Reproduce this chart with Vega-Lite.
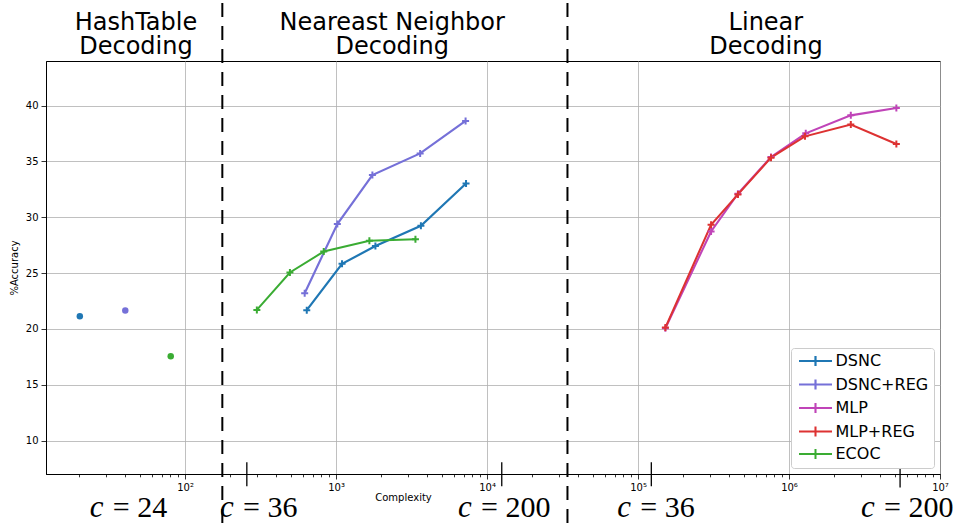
{
  "$schema": "https://vega.github.io/schema/vega-lite/v6.json",
  "width": 894,
  "height": 413,
  "autosize": {"type": "none"},
  "padding": {"left": 46, "top": 61, "right": 15, "bottom": 49},
  "config": {
    "font": "DejaVu Sans",
    "view": {"stroke": "black", "strokeWidth": 1},
    "axis": {"labelFont": "DejaVu Sans", "titleFont": "DejaVu Sans", "labelColor": "black", "titleColor": "black", "labelFontSize": 10, "titleFontSize": 10, "titleFontWeight": "normal", "tickColor": "black", "tickWidth": 0.8, "domainColor": "black", "domainWidth": 1, "gridColor": "#b0b0b0", "gridWidth": 0.8}
  },
  "datasets": {
    "lines": [
      {"method": "DSNC", "complexity": 640, "acc": 21.68},
      {"method": "DSNC", "complexity": 1096, "acc": 25.83},
      {"method": "DSNC", "complexity": 1823, "acc": 27.42},
      {"method": "DSNC", "complexity": 3648, "acc": 29.24},
      {"method": "DSNC", "complexity": 7261, "acc": 33.03},
      {"method": "DSNC+REG", "complexity": 620, "acc": 23.2},
      {"method": "DSNC+REG", "complexity": 1020, "acc": 29.39},
      {"method": "DSNC+REG", "complexity": 1741, "acc": 33.78},
      {"method": "DSNC+REG", "complexity": 3607, "acc": 35.72},
      {"method": "DSNC+REG", "complexity": 7212, "acc": 38.63},
      {"method": "MLP", "complexity": 151800, "acc": 20.06},
      {"method": "MLP", "complexity": 304700, "acc": 28.73},
      {"method": "MLP", "complexity": 459000, "acc": 32.11},
      {"method": "MLP", "complexity": 760000, "acc": 35.4},
      {"method": "MLP", "complexity": 1291000, "acc": 37.52},
      {"method": "MLP", "complexity": 2566000, "acc": 39.13},
      {"method": "MLP", "complexity": 5140000, "acc": 39.79},
      {"method": "MLP+REG", "complexity": 151800, "acc": 20.12},
      {"method": "MLP+REG", "complexity": 304700, "acc": 29.33},
      {"method": "MLP+REG", "complexity": 459000, "acc": 32.05},
      {"method": "MLP+REG", "complexity": 760000, "acc": 35.34},
      {"method": "MLP+REG", "complexity": 1276000, "acc": 37.25},
      {"method": "MLP+REG", "complexity": 2566000, "acc": 38.3},
      {"method": "MLP+REG", "complexity": 5140000, "acc": 36.56},
      {"method": "ECOC", "complexity": 299, "acc": 21.7},
      {"method": "ECOC", "complexity": 495, "acc": 25.05},
      {"method": "ECOC", "complexity": 829, "acc": 26.93},
      {"method": "ECOC", "complexity": 1663, "acc": 27.89},
      {"method": "ECOC", "complexity": 3357, "acc": 28.04}
    ],
    "hash": [
      {"method": "DSNC", "complexity": 20.1, "acc": 21.13},
      {"method": "DSNC+REG", "complexity": 40.2, "acc": 21.64},
      {"method": "ECOC", "complexity": 80.4, "acc": 17.55}
    ],
    "dividers": [
      {"complexity": 176.6, "acc": 2.6, "acc2": 49.5},
      {"complexity": 34100, "acc": 2.6, "acc2": 49.5}
    ],
    "cticks": [
      {"complexity": 256.6, "acc": 5.91, "acc2": 8.06},
      {"complexity": 12520, "acc": 5.91, "acc2": 8.06},
      {"complexity": 122500, "acc": 5.91, "acc2": 8.06},
      {"complexity": 5440000, "acc": 5.79, "acc2": 7.85}
    ],
    "clabels": [
      {"complexity": 23.4, "acc": 3.12, "label": "= 24"},
      {"complexity": 170.6, "acc": 3.12, "label": "= 36"},
      {"complexity": 6430, "acc": 3.12, "label": "= 200"},
      {"complexity": 72900, "acc": 3.12, "label": "= 36"},
      {"complexity": 3000000, "acc": 3.12, "label": "= 200"}
    ],
    "sections": [
      {"complexity": 47.3, "acc": 46.8, "label": "HashTable\nDecoding"},
      {"complexity": 2355, "acc": 46.8, "label": "Neareast Neighbor\nDecoding"},
      {"complexity": 703000, "acc": 46.8, "label": "Linear\nDecoding"}
    ]
  },
  "layer": [
    {
      "data": {"name": "lines"},
      "mark": {"type": "line"},
      "encoding": {
        "x": {"field": "complexity", "type": "quantitative",
          "scale": {"type": "log", "domain": [12, 10000000], "nice": false},
          "axis": {
            "title": "Complexity",
            "titleX": 357, "titleY": 18, "titleAlign": "center", "titleBaseline": "top",
            "values": [20,30,40,50,60,70,80,90,100,200,300,400,500,600,700,800,900,1000,2000,3000,4000,5000,6000,7000,8000,9000,10000,20000,30000,40000,50000,60000,70000,80000,90000,100000,200000,300000,400000,500000,600000,700000,800000,900000,1000000,2000000,3000000,4000000,5000000,6000000,7000000,8000000,9000000,10000000],
            "labelExpr": "abs(log(datum.value)/LN10 - round(log(datum.value)/LN10)) < 0.001 ? '10' + ['⁰','¹','²','³','⁴','⁵','⁶','⁷','⁸'][round(log(datum.value)/LN10)] : ''",
            "labelPadding": 3,
            "labelFlush": false,
            "labelOverlap": false,
            "tickSize": {"condition": {"test": "abs(log(datum.value)/LN10 - round(log(datum.value)/LN10)) < 0.001", "value": 5}, "value": 2.8},
            "gridOpacity": {"condition": {"test": "abs(log(datum.value)/LN10 - round(log(datum.value)/LN10)) < 0.001", "value": 1}, "value": 0}
          }
        },
        "y": {"field": "acc", "type": "quantitative",
          "scale": {"domain": [7, 44], "nice": false, "zero": false},
          "axis": {"title": "%Accuracy", "values": [10, 15, 20, 25, 30, 35, 40], "tickSize": 5, "labelPadding": 3, "titlePadding": 6}
        },
        "color": {"field": "method", "type": "nominal",
          "scale": {"domain": ["DSNC", "DSNC+REG", "MLP", "MLP+REG", "ECOC"], "range": ["#1f77b4", "#7570d8", "#c044b8", "#dd3232", "#3aac33"]},
          "legend": {"title": null, "orient": "bottom-right", "offset": 6, "symbolType": "M-3.3,0H3.3M0,-1V1", "symbolSize": 100, "symbolStrokeWidth": 2, "symbolOffset": 11.5, "labelOffset": 12, "labelFontSize": 16, "labelFont": "DejaVu Sans", "labelColor": "black", "padding": 5, "rowPadding": 3.5, "strokeColor": "#cccccc", "fillColor": "white", "cornerRadius": 3}
        },
        "strokeWidth": {"field": "method", "type": "nominal",
          "scale": {"domain": ["DSNC", "DSNC+REG", "MLP", "MLP+REG", "ECOC"], "range": [2.2, 2, 1.5, 2.5, 2.2]},
          "legend": null
        }
      }
    },
    {
      "data": {"name": "lines"},
      "mark": {"type": "point", "shape": "M-1,0H1M0,-1V1", "filled": false, "size": 49, "strokeWidth": 2, "opacity": 1},
      "encoding": {
        "x": {"field": "complexity", "type": "quantitative"},
        "y": {"field": "acc", "type": "quantitative"},
        "color": {"field": "method", "type": "nominal"}
      }
    },
    {
      "data": {"name": "hash"},
      "mark": {"type": "circle", "size": 42, "opacity": 1},
      "encoding": {
        "x": {"field": "complexity", "type": "quantitative"},
        "y": {"field": "acc", "type": "quantitative"},
        "color": {"field": "method", "type": "nominal"}
      }
    },
    {
      "data": {"name": "dividers"},
      "mark": {"type": "rule", "color": "black", "strokeWidth": 2, "strokeDash": [14, 9], "clip": false},
      "encoding": {
        "x": {"field": "complexity", "type": "quantitative"},
        "y": {"field": "acc", "type": "quantitative"},
        "y2": {"field": "acc2"}
      }
    },
    {
      "data": {"name": "cticks"},
      "mark": {"type": "rule", "color": "black", "strokeWidth": 1.3, "clip": false},
      "encoding": {
        "x": {"field": "complexity", "type": "quantitative"},
        "y": {"field": "acc", "type": "quantitative"},
        "y2": {"field": "acc2"}
      }
    },
    {
      "data": {"name": "clabels"},
      "mark": {"type": "text", "text": "c", "font": "Liberation Serif", "fontStyle": "italic", "fontSize": 31, "align": "left", "baseline": "alphabetic", "color": "black", "clip": false},
      "encoding": {
        "x": {"field": "complexity", "type": "quantitative"},
        "y": {"field": "acc", "type": "quantitative"}
      }
    },
    {
      "data": {"name": "clabels"},
      "mark": {"type": "text", "dx": 23, "font": "Liberation Serif", "fontSize": 30, "align": "left", "baseline": "alphabetic", "color": "black", "clip": false},
      "encoding": {
        "x": {"field": "complexity", "type": "quantitative"},
        "y": {"field": "acc", "type": "quantitative"},
        "text": {"field": "label"}
      }
    },
    {
      "data": {"name": "sections"},
      "mark": {"type": "text", "font": "DejaVu Sans", "fontSize": 24, "lineHeight": 24, "lineBreak": "\n", "align": "center", "baseline": "alphabetic", "color": "black", "clip": false},
      "encoding": {
        "x": {"field": "complexity", "type": "quantitative"},
        "y": {"field": "acc", "type": "quantitative"},
        "text": {"field": "label"}
      }
    }
  ]
}
